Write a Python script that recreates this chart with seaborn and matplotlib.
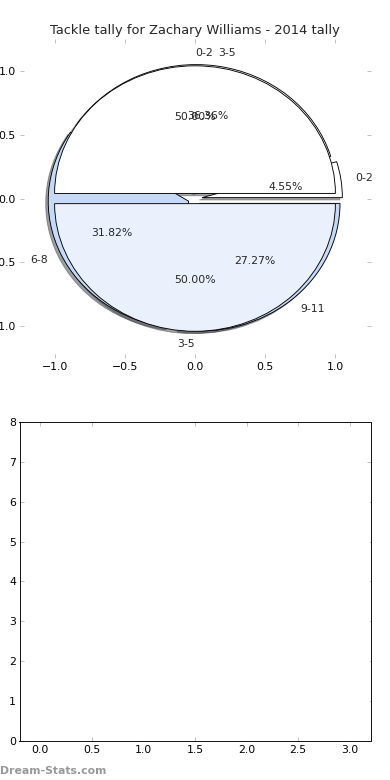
import matplotlib
matplotlib.use("Agg")
import seaborn as sns
import matplotlib.pyplot as plt
import pandas as pd

# data
season_labels = ["0-2", "3-5"]
season_values = [1, 1]
range_labels = ["0-2", "3-5", "6-8", "9-11"]
range_values = [1, 8, 7, 6]
bar_x = [0, 1, 2, 3]

title = "Tackle tally for Zachary Williams - 2014 tally"

sns.set_style("white")
plt.rcParams["font.family"] = ["DejaVu Sans"]
plt.rcParams["font.size"] = 12
plt.rcParams["patch.linewidth"] = 1.0

fig, (ax1, ax2) = plt.subplots(2, 1, figsize=(6, 12), dpi=65)
fig.subplots_adjust(left=0.05, right=0.95, top=0.95, bottom=0.05, hspace=0.2)

# pie de rangos (abajo)
ax1.pie(range_values, labels=range_labels, autopct="%.2f%%", shadow=True,
        explode=[0.05] * 4, colors=["white", "white", "#c6daf8", "#c6daf8"],
        wedgeprops={"edgecolor": "black", "linewidth": 1.0},
        textprops={"fontsize": 12})
# pie de temporada (encima)
_, lab_a, _ = ax1.pie(season_values, labels=season_labels, autopct="%.2f%%", shadow=True,
                      explode=[0.04] * 2, colors=["white", "#ebf1fc"],
                      wedgeprops={"edgecolor": "black", "linewidth": 1.0},
                      textprops={"fontsize": 12})
# alineacion como en la version vieja de matplotlib
lab_a[0].set_ha("left")
lab_a[1].set_ha("right")

ax1.set_aspect("auto")
ax1.set_xlim(-1.25, 1.25)
ax1.set_ylim(-1.25, 1.25)
ax1.set_xticks([-1.0, -0.5, 0.0, 0.5, 1.0])
ax1.set_yticks([-1.0, -0.5, 0.0, 0.5, 1.0])
ax1.set_frame_on(False)
ax1.set_title(title, fontsize=14.4)

# barras (invisibles)
df = pd.DataFrame({"x": bar_x, "y": range_values})
sns.barplot(data=df, x="x", y="y", native_scale=True, width=0.4,
            color="white", linewidth=0, ax=ax2)
ax2.set_xlim(-0.2, 3.2)
ax2.set_ylim(0, 8)
ax2.set_xlabel("")
ax2.set_ylabel("")
for s in ax2.spines.values():
    s.set_visible(True)
    s.set_color("black")
    s.set_linewidth(1.0)

for ax in (ax1, ax2):
    ax.tick_params(direction="in", length=4, width=1, color="#bbbbbb",
                   labelcolor="black", labelsize=12, top=True, right=True,
                   bottom=True, left=True, pad=4)

fig.text(0.0, 0.005, "Dream-Stats.com", color="#999999", fontsize=12,
         fontweight="semibold", ha="left", va="bottom")

plt.savefig("out.png", dpi=65)
